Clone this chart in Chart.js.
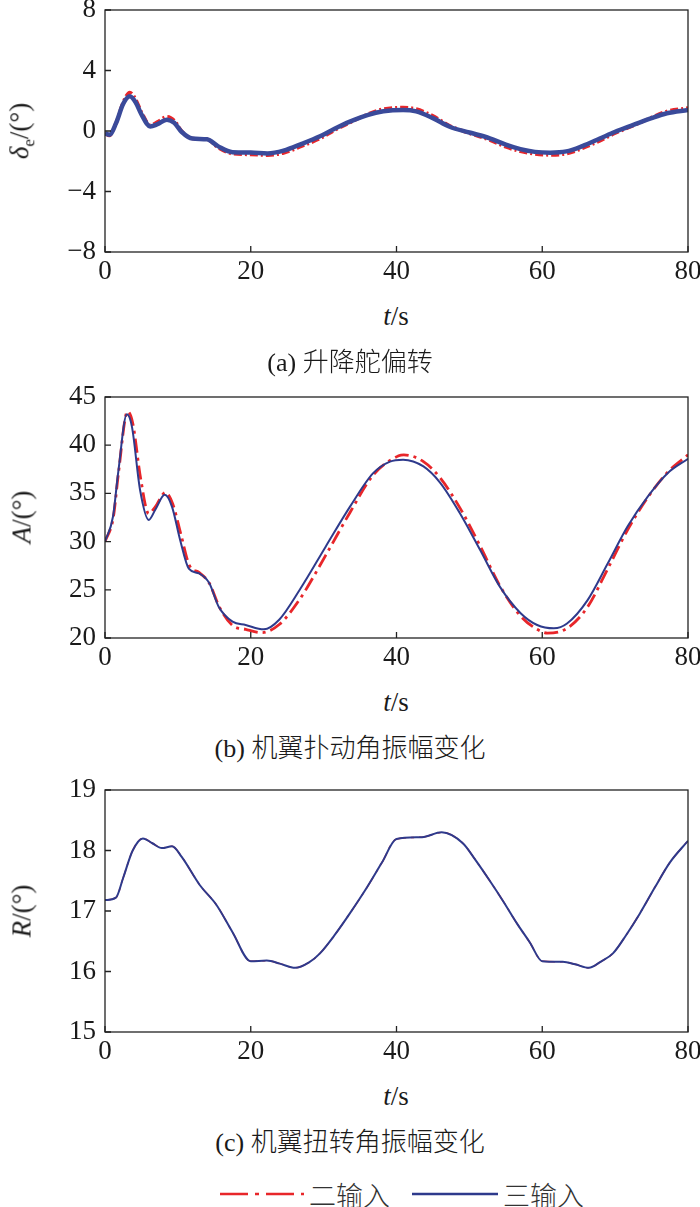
<!DOCTYPE html>
<html>
<head>
<meta charset="utf-8">
<script src="https://cdn.jsdelivr.net/npm/chart.js@4"></script>
<style>
body { margin: 0; background: #fff; width: 700px; height: 1207px; position: relative; overflow: hidden;
       font-family: "Liberation Serif", serif; color: #1a1a1a; }
canvas { position: absolute; left: 0; }
.lbl { position: absolute; font-size: 27px; white-space: nowrap; line-height: 1; transform: translate(-50%, -50%); }
.cap { font-size: 26px; }
.ytl { transform: translate(-50%, -50%) rotate(-90deg); }
.cjk { font-family: "Noto Sans CJK SC", sans-serif; font-weight: 300; }
.leg { position: absolute; top: 1179px; height: 30px; display: flex; align-items: center; font-size: 27px; color: #333; }
</style>
</head>
<body>
<canvas id="c1" width="700" height="300" style="top:0"></canvas>
<canvas id="c2" width="700" height="310" style="top:370px"></canvas>
<canvas id="c3" width="700" height="310" style="top:770px"></canvas>

<div class="lbl ytl" style="left:22px;top:131px"><i>δ</i><sub style="font-size:17px">e</sub>/(°)</div>
<div class="lbl" style="left:396px;top:316px"><i>t</i>/s</div>
<div class="lbl cap" style="left:350px;top:361px">(a) <span class="cjk">升降舵偏转</span></div>

<div class="lbl ytl" style="left:22px;top:517px"><i>A</i>/(°)</div>
<div class="lbl" style="left:396px;top:702px"><i>t</i>/s</div>
<div class="lbl cap" style="left:350px;top:747px">(b) <span class="cjk">机翼扑动角振幅变化</span></div>

<div class="lbl ytl" style="left:22px;top:911px"><i>R</i>/(°)</div>
<div class="lbl" style="left:396px;top:1096px"><i>t</i>/s</div>
<div class="lbl cap" style="left:350px;top:1141px">(c) <span class="cjk">机翼扭转角振幅变化</span></div>

<div class="leg" style="left:220px">
  <svg width="84" height="6"><line x1="0" y1="3" x2="84" y2="3" stroke="#e8262a" stroke-width="2.5" stroke-dasharray="28,7,4,7"/></svg>
  <span class="cjk" style="margin-left:5px">二输入</span>
</div>
<div class="leg" style="left:412px">
  <svg width="86" height="6"><line x1="0" y1="3" x2="86" y2="3" stroke="#2e3a8c" stroke-width="2.5"/></svg>
  <span class="cjk" style="margin-left:5px">三输入</span>
</div>

<script>
// (a) elevator deflection
const t1 = [0, 0.6, 1.5, 2.5, 3.4, 4.2, 5, 6.2, 7.2, 8.5, 9.5, 10.5, 12, 14, 15.5, 17.5, 20, 22.3, 24.5, 27, 29.5, 31.5,
            33.6, 36, 38.2, 40.9, 42.7, 45, 47.3, 50, 52.8, 55, 57, 59, 61.1, 63.3, 65.5, 67.9, 70, 72.5, 75, 77.1, 80];
const blue1 = [-0.15, -0.25, 0.5, 1.8, 2.3, 1.9, 1.1, 0.3, 0.45, 0.75, 0.55, -0.05, -0.5, -0.55, -1.0, -1.4, -1.42, -1.48,
               -1.3, -0.85, -0.35, 0.15, 0.62, 1.05, 1.3, 1.39, 1.3, 0.85, 0.28, -0.1, -0.48, -0.9, -1.2, -1.38, -1.43,
               -1.35, -1.0, -0.5, -0.05, 0.4, 0.85, 1.17, 1.39];
const red1 = [-0.15, -0.3, 0.5, 1.9, 2.55, 2.1, 1.25, 0.4, 0.6, 0.95, 0.7, 0.0, -0.5, -0.55, -1.1, -1.5, -1.55, -1.6,
              -1.45, -1.0, -0.5, 0.05, 0.55, 1.1, 1.45, 1.55, 1.45, 1.0, 0.35, -0.15, -0.6, -1.05, -1.35, -1.52, -1.58,
              -1.5, -1.15, -0.65, -0.15, 0.35, 0.9, 1.3, 1.52];

// (b) flapping amplitude
const t2b = [0, 1.1, 1.8, 3.0, 3.7, 4.8, 6.0, 6.9, 8.2, 9.2, 10.3, 11.5, 12.9, 14.3, 15.6, 17.5, 19.3, 21.8, 23.9, 26.7,
             30.3, 33.6, 36.8, 39.1, 40.9, 43.7, 46, 48.7, 51.5, 54.2, 57, 59.3, 61.6, 63.4, 66.2, 69, 71.7, 74.5, 77.2, 80];
const blue2 = [30, 32.6, 37.1, 43.2, 41.9, 35.4, 32.25, 33.3, 34.85, 33.6, 30.2, 27.2, 26.7, 25.7, 23.25, 21.7, 21.35,
               20.9, 21.9, 24.98, 29.5, 33.6, 37.1, 38.3, 38.5, 37.8, 36.1, 32.95, 29.1, 25.3, 22.6, 21.35, 21.0, 21.5,
               23.9, 27.75, 31.56, 34.7, 37.1, 38.6];
const t2r = [0, 1.14, 1.83, 3.1, 3.8, 4.9, 6.0, 6.9, 8.3, 9.3, 10.4, 11.6, 12.9, 14.3, 15.7, 17.5, 19.3, 21.5, 23.9, 26.7,
             30.3, 33.6, 36.8, 40.3, 41, 43.7, 46, 48.7, 51.5, 54.2, 57, 59.3, 60.7, 63.4, 66.2, 69, 71.7, 74.5, 77.2, 80];
const red2 = [30, 32.5, 37, 43.5, 42.3, 36.5, 32.9, 33.6, 35.1, 33.9, 30.8, 27.5, 26.8, 25.7, 23.2, 21.3, 20.9, 20.55,
              21.4, 24.0, 28.6, 33.0, 36.9, 38.9, 39.0, 38.3, 36.6, 33.5, 29.5, 25.4, 22.3, 20.9, 20.5, 21.0, 23.2, 27.2,
              31.2, 34.6, 37.2, 39.0];

// (c) twist amplitude
const t3 = [0, 1.5, 2.5, 3.8, 5.2, 6.5, 7.8, 9.2, 10.5, 13, 15.3, 17.5, 20, 22.2, 24, 26.1, 28, 29.5, 31.5, 33.6, 36, 38,
            40, 43.5, 46.2, 49.1, 50.8, 52.8, 54.7, 56.5, 58.3, 60, 62.8, 64.5, 66.4, 68, 69.7, 71.5, 73.4, 75.5, 77.5, 80];
const blue3 = [17.18, 17.22, 17.55, 18.0, 18.2, 18.12, 18.04, 18.07, 17.9, 17.43, 17.1, 16.65, 16.17, 16.18, 16.13, 16.06,
               16.15, 16.3, 16.6, 16.96, 17.4, 17.8, 18.19, 18.22, 18.3, 18.12, 17.85, 17.5, 17.15, 16.8, 16.48, 16.17,
               16.16, 16.12, 16.06, 16.16, 16.3, 16.6, 16.96, 17.4, 17.8, 18.16];
const red3 = [17.18, 17.22, 17.55, 18.0, 18.2, 18.12, 18.04, 18.07, 17.9, 17.43, 17.1, 16.65, 16.17, 16.18, 16.13, 16.06,
              16.15, 16.3, 16.6, 16.96, 17.4, 17.8, 18.19, 18.22, 18.3, 18.12, 17.85, 17.5, 17.15, 16.8, 16.48, 16.17,
              16.16, 16.12, 16.06, 16.16, 16.3, 16.6, 16.96, 17.4, 17.8, 18.16];

const xTicks = [0, 20, 40, 60, 80];

const RED = '#e8262a';
const BLUE = '#2e3a8c';

const pts = (xs, ys) => xs.map((x, i) => ({x: x, y: ys[i]}));

// box round the plot and short inward tick marks
const frameTicks = {
  id: 'frameTicks',
  afterDatasetsDraw(chart) {
    const {ctx, chartArea: a, scales: {x, y}} = chart;
    ctx.save();
    ctx.strokeStyle = '#222';
    ctx.lineWidth = 1.3;
    ctx.strokeRect(a.left, a.top, a.right - a.left, a.bottom - a.top);
    ctx.beginPath();
    x.ticks.forEach(t => {
      const px = x.getPixelForValue(t.value);
      ctx.moveTo(px, a.bottom);
      ctx.lineTo(px, a.bottom - 6);
    });
    y.ticks.forEach(t => {
      const py = y.getPixelForValue(t.value);
      ctx.moveTo(a.left, py);
      ctx.lineTo(a.left + 6, py);
    });
    ctx.stroke();
    ctx.restore();
  }
};

function makeChart(id, plotTop, xHeight, yMin, yMax, yStep, datasets) {
  const tickFont = {family: 'Liberation Serif', size: 27};
  return new Chart(document.getElementById(id), {
    type: 'line',
    data: {datasets: datasets},
    options: {
      responsive: false,
      animation: false,
      layout: {padding: {top: plotTop, right: 12, left: 0, bottom: 0}},
      plugins: {legend: {display: false}, tooltip: {enabled: false}},
      elements: {point: {radius: 0}},
      scales: {
        x: {
          type: 'linear', min: 0, max: 80,
          afterBuildTicks: s => { s.ticks = xTicks.map(v => ({value: v})); },
          afterFit: s => { s.height = xHeight; s.paddingLeft = 0; s.paddingRight = 0; },
          grid: {display: false, drawTicks: false},
          border: {display: false},
          ticks: {font: tickFont, color: '#1a1a1a', padding: 4, maxRotation: 0}
        },
        y: {
          min: yMin, max: yMax,
          afterFit: s => { s.width = 105; s.paddingTop = 0; s.paddingBottom = 0; },
          grid: {display: false, drawTicks: false},
          border: {display: false},
          ticks: {font: tickFont, color: '#1a1a1a', padding: 9, stepSize: yStep,
                  callback: v => String(v).replace('-', '\u2212')}
        }
      }
    },
    plugins: [frameTicks]
  });
}

makeChart('c1', 10, 48, -8, 8, 4, [
  {label: '二输入', data: pts(t1, red1), borderColor: RED, borderWidth: 3.5, borderDash: [8, 3, 2, 3],
   cubicInterpolationMode: 'monotone', order: 1},
  {label: '三输入', data: pts(t1, blue1), borderColor: '#3a4a9a', borderWidth: 4.5,
   cubicInterpolationMode: 'monotone', order: 0}
]);

makeChart('c2', 27, 42, 20, 45, 5, [
  {label: '二输入', data: pts(t2r, red2), borderColor: RED, borderWidth: 2.8, borderDash: [14, 5, 3, 5],
   cubicInterpolationMode: 'monotone', order: 1},
  {label: '三输入', data: pts(t2b, blue2), borderColor: BLUE, borderWidth: 2,
   cubicInterpolationMode: 'monotone', order: 0}
]);

makeChart('c3', 20, 48, 15, 19, 1, [
  {label: '二输入', data: pts(t3, red3), borderColor: RED, borderWidth: 1.5, borderDash: [14, 5, 3, 5],
   cubicInterpolationMode: 'monotone', order: 1},
  {label: '三输入', data: pts(t3, blue3), borderColor: BLUE, borderWidth: 2,
   cubicInterpolationMode: 'monotone', order: 0}
]);
</script>
</body>
</html>
